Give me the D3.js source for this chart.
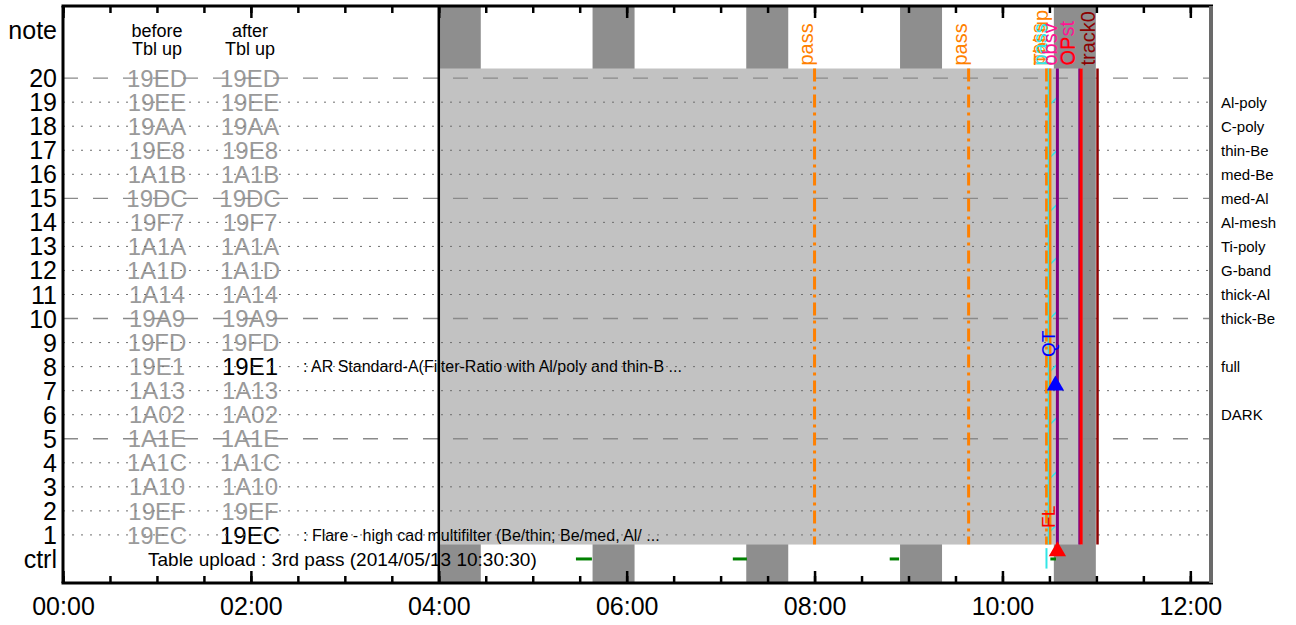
<!DOCTYPE html>
<html>
<head>
<meta charset="utf-8">
<script src="https://cdn.jsdelivr.net/npm/d3@7"></script>
<style>
  body { margin: 0; background: #fff; }
  text { font-family: 'Liberation Sans', Arial, sans-serif; }
</style>
</head>
<body>
<div id="chart"></div>
<script>
// chart values
const hourTicks = [0, 2, 4, 6, 8, 10, 12];
const minorTicks = d3.range(0, 12.25, 0.5);
const rows = d3.range(20, 0, -1);
const beforeIds = ['19ED', '19EE', '19AA', '19E8', '1A1B', '19DC', '19F7', '1A1A', '1A1D', '1A14',
  '19A9', '19FD', '19E1', '1A13', '1A02', '1A1E', '1A1C', '1A10', '19EF', '19EC'];
const afterIds = ['19ED', '19EE', '19AA', '19E8', '1A1B', '19DC', '19F7', '1A1A', '1A1D', '1A14',
  '19A9', '19FD', '19E1', '1A13', '1A02', '1A1E', '1A1C', '1A10', '19EF', '19EC'];
const activeRows = [8, 1];
const rowNotes = [
  { row: 8, text: ': AR Standard-A(Filter-Ratio with Al/poly and thin-B ...' },
  { row: 1, text: ': Flare - high cad multifilter (Be/thin; Be/med, Al/ ...' }
];
const filterNames = ['Al-poly', 'C-poly', 'thin-Be', 'med-Be', 'med-Al', 'Al-mesh', 'Ti-poly',
  'G-band', 'thick-Al', 'thick-Be', 'full', 'DARK'];
const filterRows = [19, 18, 17, 16, 15, 14, 13, 12, 11, 10, 8, 6];
const ctrlText = 'Table upload : 3rd pass (2014/05/13 10:30:30)';

// night (dark) bands, hours
const nightStart = [4.0, 5.637, 7.273, 8.91, 10.547];
const nightLen = 0.447;
// shaded table span
const tableSpan = [4.0, 10.85];
// ground passes
const passTimes = [8.0, 9.64, 10.47];
const greenSegs = [[5.46, 5.63], [7.13, 7.28], [8.80, 8.90], [10.51, 10.57]];
const cadenceRows = [19.17, 16.97, 14.72, 12.52, 10.27, 8.07, 5.86, 3.62, 1.41];
const tblUpTime = 10.508;
const cyanTime = 10.49;
const obsvTime = 10.585;
const opTime = 10.838;
const track0Time = 11.012;

const width = 1296, height = 625;

const svg = d3.select('#chart')
  .append('svg')
  .attr('width', width)
  .attr('height', height);

const x = d3.scaleLinear().domain([0, 12.22]).range([63, 1211]);
const y = d3.scaleLinear().domain([-1, 23]).range([583, 6]);

const top0 = y(23), bot0 = y(-1);
const gTop = y(20.4), gBot = y(0.6);

// night bands
svg.selectAll('rect.night')
  .data(nightStart)
  .enter()
  .append('rect')
  .attr('x', d => x(d))
  .attr('width', d => x(d + nightLen) - x(d))
  .attr('y', top0)
  .attr('height', bot0 - top0)
  .style('fill', '#8e8e8e');

// table shading
svg.append('rect')
  .attr('x', x(tableSpan[0]))
  .attr('width', x(tableSpan[1]) - x(tableSpan[0]))
  .attr('y', gTop)
  .attr('height', gBot - gTop)
  .style('fill', '#c2c2c2');

// id columns
const colBefore = 157, colAfter = 250;
svg.selectAll('text.before')
  .data(rows)
  .enter()
  .append('text')
  .attr('x', colBefore)
  .attr('y', d => y(d))
  .attr('dy', '0.36em')
  .attr('text-anchor', 'middle')
  .attr('font-size', '24px')
  .attr('fill', '#9a9a9a')
  .text((d, i) => beforeIds[i]);

svg.selectAll('text.after')
  .data(rows)
  .enter()
  .append('text')
  .attr('x', colAfter)
  .attr('y', d => y(d))
  .attr('dy', '0.36em')
  .attr('text-anchor', 'middle')
  .attr('font-size', '24px')
  .attr('fill', d => activeRows.includes(d) ? '#000' : '#9a9a9a')
  .text((d, i) => afterIds[i]);

// headers
[['before', colBefore], ['after', colAfter]].forEach(h => {
  const t = svg.append('text')
    .attr('x', h[1])
    .attr('y', 37)
    .attr('text-anchor', 'middle')
    .attr('font-size', '18px');
  t.append('tspan').attr('x', h[1]).attr('dy', 0).text(h[0]);
  t.append('tspan').attr('x', h[1]).attr('dy', 18).text('Tbl up');
});

// row notes
svg.selectAll('text.note')
  .data(rowNotes)
  .enter()
  .append('text')
  .attr('x', 303)
  .attr('y', d => y(d.row))
  .attr('dy', '0.36em')
  .attr('font-size', '16px')
  .text(d => d.text);

// ctrl row text
svg.append('text')
  .attr('x', 148)
  .attr('y', y(0))
  .attr('dy', '0.36em')
  .attr('font-size', '19px')
  .text(ctrlText);

// grid
svg.selectAll('line.grid')
  .data(rows)
  .enter()
  .append('line')
  .attr('x1', x(0))
  .attr('x2', x(12.22))
  .attr('y1', d => y(d))
  .attr('y2', d => y(d))
  .style('stroke', d => d % 5 === 0 ? '#8a8a8a' : '#6e6e6e')
  .style('stroke-width', d => d % 5 === 0 ? 1.4 : 1)
  .style('stroke-dasharray', d => d % 5 === 0 ? '15,15' : '2,7');

// green ctrl segments
svg.selectAll('line.ctrl')
  .data(greenSegs)
  .enter()
  .append('line')
  .attr('x1', d => x(d[0]))
  .attr('x2', d => x(d[1]))
  .attr('y1', y(0))
  .attr('y2', y(0))
  .style('stroke', '#008000')
  .style('stroke-width', 3);

// pass lines
svg.selectAll('line.pass')
  .data(passTimes)
  .enter()
  .append('line')
  .attr('x1', d => x(d))
  .attr('x2', d => x(d))
  .attr('y1', gTop)
  .attr('y2', gBot)
  .style('stroke', '#ff8000')
  .style('stroke-width', 3)
  .style('stroke-dasharray', '13,5,3,5');

// cyan line and cadence marks
svg.append('line')
  .attr('x1', x(cyanTime)).attr('x2', x(cyanTime))
  .attr('y1', gTop).attr('y2', gBot)
  .style('stroke', '#33e6e6').style('stroke-width', 1.5);
svg.selectAll('line.cad')
  .data(cadenceRows)
  .enter()
  .append('line')
  .attr('x1', x(cyanTime) + 2)
  .attr('x2', x(cyanTime) + 10)
  .attr('y1', d => y(d) + 6)
  .attr('y2', d => y(d) - 2)
  .style('stroke', '#33e6e6').style('stroke-width', 1.5);
svg.append('line')
  .attr('x1', x(cyanTime) - 2).attr('x2', x(cyanTime) - 2)
  .attr('y1', y(0.45)).attr('y2', y(-0.4))
  .style('stroke', '#33e6e6').style('stroke-width', 2);

// event lines
const events = [
  { t: tblUpTime, color: '#ff8000', w: 2.5 },
  { t: obsvTime, color: '#800080', w: 3 },
  { t: opTime - 0.02, color: '#800080', w: 2 },
  { t: opTime, color: '#ff0000', w: 3 },
  { t: track0Time, color: '#8b0000', w: 2.5 }
];
svg.selectAll('line.event')
  .data(events)
  .enter()
  .append('line')
  .attr('x1', d => x(d.t))
  .attr('x2', d => x(d.t))
  .attr('y1', gTop)
  .attr('y2', gBot)
  .style('stroke', d => d.color)
  .style('stroke-width', d => d.w);

// 04:00 marker line
svg.append('line')
  .attr('x1', x(4)).attr('x2', x(4))
  .attr('y1', top0).attr('y2', bot0)
  .style('stroke', '#000').style('stroke-width', 2.5);

// vertical labels at the top
const vLabels = [
  { t: passTimes[0], text: 'pass', color: '#ff8000' },
  { t: passTimes[1], text: 'pass', color: '#ff8000' },
  { t: passTimes[2], text: 'pass', color: '#ff8000' },
  { t: tblUpTime, text: 'Tbl up', color: '#ff8000' },
  { t: cyanTime + 0.01, text: 'pass', color: '#33e6e6' },
  { t: obsvTime + 0.02, text: 'obsv', color: '#ff1493' },
  { t: opTime - 0.05, text: 'OPst', color: '#ff1493' },
  { t: opTime - 0.04, text: 'OP', color: '#ff0000' },
  { t: track0Time - 0.01, text: 'track0', color: '#8b0000' }
];
svg.selectAll('text.vlab')
  .data(vLabels)
  .enter()
  .append('text')
  .attr('transform', d => `translate(${x(d.t) - 2},${gTop - 3}) rotate(-90)`)
  .attr('font-size', '20px')
  .attr('fill', d => d.color)
  .text(d => d.text);

// QT and FL marks
svg.append('text')
  .attr('transform', `translate(${x(obsvTime) - 2},${y(8.4)}) rotate(-90)`)
  .attr('font-size', '19px').attr('fill', '#0000ff').text('QT');
svg.append('text')
  .attr('transform', `translate(${x(obsvTime) - 2},${y(1.29)}) rotate(-90)`)
  .attr('font-size', '19px').attr('fill', '#ff0000').text('FL');

const tri = d3.symbol().type(d3.symbolTriangle).size(130);
svg.append('path')
  .attr('d', tri)
  .attr('transform', `translate(${x(obsvTime) - 2},${y(7.3) + 2})`)
  .style('fill', '#0000ff');
svg.append('path')
  .attr('d', tri)
  .attr('transform', `translate(${x(obsvTime)},${y(0.45) + 3})`)
  .style('fill', '#ff0000');

// filter names on the right
svg.selectAll('text.filter')
  .data(filterNames)
  .enter()
  .append('text')
  .attr('x', 1221)
  .attr('y', (d, i) => y(filterRows[i]))
  .attr('dy', '0.36em')
  .attr('font-size', '15px')
  .text(d => d);

// y labels
const yLabels = [{ v: 22, t: 'note' }].concat(rows.map(r => ({ v: r, t: String(r) }))).concat([{ v: 0, t: 'ctrl' }]);
svg.selectAll('text.ylab')
  .data(yLabels)
  .enter()
  .append('text')
  .attr('x', 57)
  .attr('y', d => y(d.v))
  .attr('dy', '0.36em')
  .attr('text-anchor', 'end')
  .attr('font-size', '25px')
  .text(d => d.t);

// x axes (ticks pointing inward)
const fmt = d => String(d).padStart(2, '0') + ':00';
const bottomMinor = svg.append('g')
  .attr('transform', `translate(0,${bot0})`)
  .call(d3.axisBottom(x).tickValues(minorTicks).tickSize(-7).tickFormat(''));
const bottomMajor = svg.append('g')
  .attr('transform', `translate(0,${bot0})`)
  .call(d3.axisBottom(x).tickValues(hourTicks).tickSize(-12).tickPadding(14).tickFormat(fmt));
const topMinor = svg.append('g')
  .attr('transform', `translate(0,${top0})`)
  .call(d3.axisTop(x).tickValues(minorTicks).tickSize(-7).tickFormat(''));
const topMajor = svg.append('g')
  .attr('transform', `translate(0,${top0})`)
  .call(d3.axisTop(x).tickValues(hourTicks).tickSize(-12).tickFormat(''));

[bottomMinor, bottomMajor, topMinor, topMajor].forEach(g => {
  g.select('.domain').remove();
  g.selectAll('.tick line').style('stroke', '#000').style('stroke-width', 2.5);
});
bottomMajor.selectAll('.tick text')
  .attr('font-size', '25px')
  .attr('font-family', "'Liberation Sans', Arial, sans-serif")
  .attr('fill', '#000');

// frame
svg.append('line').attr('x1', x(0) - 1.5).attr('x2', x(12.22) + 2).attr('y1', top0).attr('y2', top0)
  .style('stroke', '#000').style('stroke-width', 3);
svg.append('line').attr('x1', x(0) - 1.5).attr('x2', x(12.22) + 2).attr('y1', bot0).attr('y2', bot0)
  .style('stroke', '#000').style('stroke-width', 3);
svg.append('line').attr('x1', x(0)).attr('x2', x(0)).attr('y1', top0).attr('y2', bot0)
  .style('stroke', '#000').style('stroke-width', 3);
svg.append('line').attr('x1', x(12.22)).attr('x2', x(12.22)).attr('y1', top0).attr('y2', bot0)
  .style('stroke', '#6a6a6a').style('stroke-width', 4);
</script>
</body>
</html>
